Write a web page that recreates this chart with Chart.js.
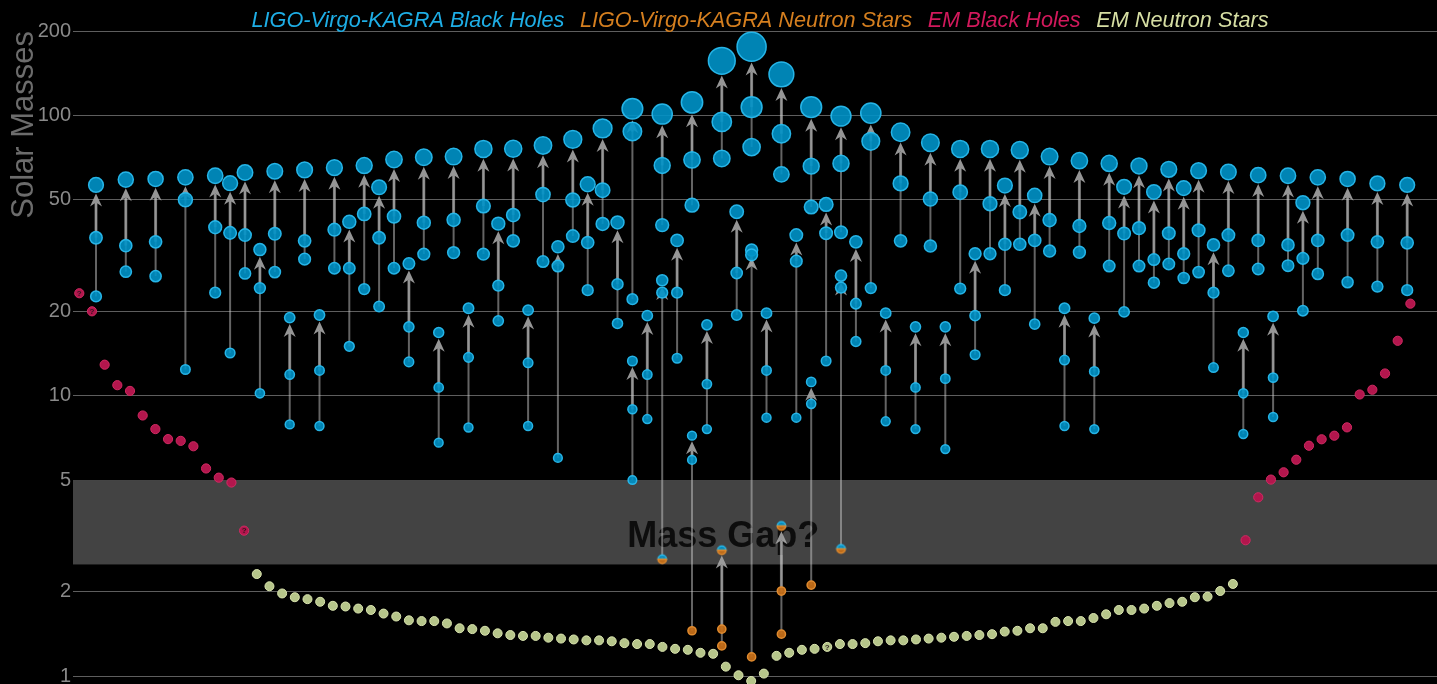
<!DOCTYPE html>
<html><head><meta charset="utf-8">
<script src="https://cdn.jsdelivr.net/npm/chart.js@4.4.1/dist/chart.umd.min.js"></script>
<style>html,body{margin:0;padding:0;background:#000;overflow:hidden}canvas{display:block}</style>
</head><body>
<canvas id="c" width="1437" height="684"></canvas>
<script>
// ---------- DATA ----------
const seriesNames = ['LIGO-Virgo-KAGRA Black Holes', 'LIGO-Virgo-KAGRA Neutron Stars', 'EM Black Holes', 'EM Neutron Stars'];
const yTickValues = [1, 2, 5, 10, 20, 50, 100, 200];
const axisTitle = 'Solar Masses';
const massGapRange = [2.5, 5];
const massGapLabel = 'Mass Gap?';

// gravitational-wave mergers, left to right (column = ordinal position)
const gwColumn = [0,1,2,3,4,4.5,5,5.5,6,6.5,7,7.5,8,8.5,9,9.5,10,10.5,11,11.5,12,12.5,13,13.5,14,14.5,15,15.5,16,16.5,17,17.5,18,18,18.5,19,19,19.5,20,20,20.5,21,21,21.5,22,22,22.5,23,23,23.5,24,24,24.5,25,25,25.5,26,26.5,27,27.5,28,28.5,29,29.5,30,30.5,31,31.5,32,32.5,33,33.5,34,34.5,35,35.5,36,36.5,37,37.5,38,38.5,39,39.5,40,40.5,41,42,43,44];
const gwFinal = [56.5,59.0,59.3,60.1,60.9,57.3,62.5,33.2,63.2,19.0,63.9,19.4,65.1,41.7,66.2,55.4,69.6,29.6,70.9,16.8,71.3,20.5,75.9,41.1,76.0,20.2,78.1,34.0,82.1,56.8,89.8,41.5,105.6,13.3,19.3,101.1,25.8,35.8,111.3,7.2,17.9,156.6,2.81,45.3,175.7,33.1,19.7,140.1,3.43,37.4,107.0,11.2,48.1,99.4,26.8,35.4,101.9,19.7,87.1,17.6,79.9,17.6,75.9,32.1,75.9,56.2,75.2,51.8,71.3,20.5,68.9,18.9,67.4,55.6,66.0,53.3,64.2,55.0,63.5,34.5,62.8,16.8,61.2,19.2,60.9,48.8,60.1,59.3,57.2,56.5];
const gwPrimary = [36.6,34.3,35.4,50.0,39.9,38.1,37.4,24.2,37.8,11.9,35.7,12.3,39.1,28.5,44.5,36.6,43.6,17.6,41.4,10.7,42.4,13.7,47.5,24.7,44.1,13.1,52.2,29.0,49.9,35.2,54.1,25.0,87.6,8.95,11.9,66.3,23.3,23.3,69.4,5.9,11.0,94.8,1.47,27.4,107.0,31.8,12.3,86.0,2.01,30.2,65.9,9.35,38.0,67.4,24.3,21.3,80.8,12.3,57.2,10.7,50.3,11.5,53.2,19.3,48.4,34.7,45.2,35.8,42.3,13.4,40.3,12.2,41.3,37.9,39.6,30.6,38.0,32.1,38.9,23.3,37.4,10.2,35.8,11.6,34.5,30.9,35.8,37.4,35.4,35.1];
const gwSecondary = [22.6,27.7,26.7,12.4,23.3,14.2,27.3,10.2,27.6,7.9,30.7,7.8,28.5,15.0,24.0,20.8,28.5,13.2,32.0,6.8,32.4,7.7,32.0,18.5,35.7,7.8,30.1,6.0,37.1,23.8,41.0,18.1,22.1,5.0,8.25,40.6,2.61,13.6,47.8,1.45,7.6,70.2,1.28,19.4,77.1,1.17,8.35,61.6,1.41,8.35,47.1,2.11,13.3,38.3,2.84,15.6,24.2,8.1,35.7,7.6,34.2,6.45,24.1,14.0,32.1,23.8,34.7,18.0,32.8,7.8,32.5,7.6,29.0,19.9,29.0,25.3,29.5,26.3,27.6,12.6,27.9,7.3,28.3,8.4,29.1,20.1,27.2,25.4,24.5,23.8];
// object class for [final, primary, secondary]: B = black hole, N = neutron star, G = uncertain (gap)
const gwKind = ['BBB','BBB','BBB','BBB','BBB','BBB','BBB','BBB','BBB','BBB','BBB','BBB','BBB','BBB','BBB','BBB','BBB','BBB','BBB','BBB','BBB','BBB','BBB','BBB','BBB','BBB','BBB','BBB','BBB','BBB','BBB','BBB','BBB','BBB','BBB','BBB','BBG','BBB','BBB','BBN','BBB','BBB','GNN','BBB','BBB','BBN','BBB','BBB','GNN','BBB','BBB','BBN','BBB','BBB','BBG','BBB','BBB','BBB','BBB','BBB','BBB','BBB','BBB','BBB','BBB','BBB','BBB','BBB','BBB','BBB','BBB','BBB','BBB','BBB','BBB','BBB','BBB','BBB','BBB','BBB','BBB','BBB','BBB','BBB','BBB','BBB','BBB','BBB','BBB','BBB'];

// electromagnetic observations, left to right
const emBlackHolesLeft = [23.2,20.0,12.9,10.9,10.4,8.5,7.6,7.0,6.9,6.6,5.5,5.1,4.9,3.3];
const emNeutronStars = [2.31,2.09,1.97,1.91,1.88,1.84,1.78,1.77,1.74,1.72,1.67,1.63,1.58,1.57,1.57,1.54,1.48,1.47,1.45,1.42,1.40,1.39,1.39,1.37,1.36,1.35,1.34,1.34,1.33,1.31,1.30,1.30,1.27,1.25,1.24,1.21,1.20,1.08,1.006,0.96,1.02,1.18,1.21,1.24,1.25,1.27,1.30,1.30,1.31,1.33,1.34,1.34,1.35,1.36,1.37,1.38,1.39,1.40,1.41,1.44,1.45,1.48,1.48,1.56,1.57,1.57,1.61,1.66,1.72,1.72,1.74,1.78,1.82,1.84,1.91,1.92,2.01,2.13];
const emBlackHolesRight = [3.05,4.34,5.02,5.33,5.91,6.63,6.99,7.20,7.71,10.1,10.5,12.0,15.7,21.3];
const emUncertain = [0, 1, 13, 59]; // positions in the EM sequence marked "?"

// ---------- STYLE ----------
const FONT = '"Liberation Sans", Arial, Helvetica, sans-serif';
const BH_FILL = 'rgba(0,146,200,0.9)', BH_BORDER = 'rgba(40,186,238,0.95)';
const NS_FILL = 'rgba(196,110,24,0.95)', NS_BORDER = '#df8a2e';
const EMBH_FILL = '#b3164d', EMBH_BORDER = '#d02a62';
const EMNS_FILL = '#b6c58a', EMNS_BORDER = '#dbe5b0';
const legendColors = ['#1eaee6', '#d57f1f', '#d2195c', '#d6dea3'];
const gwRadius = m => 4 + 0.06 * m;

// ---------- BUILD POINTS ----------
const bhPts = [], nsPts = [], gapPts = [];
for (let k = 0; k < 3; k++) {
  gwFinal.forEach((f, i) => {
    const v = [f, gwPrimary[i], gwSecondary[i]][k];
    const p = {x: gwColumn[i], y: v};
    const kind = gwKind[i][k];
    if (kind === 'B') bhPts.push(p); else if (kind === 'N') nsPts.push(p); else gapPts.push(p);
  });
}
const emBhPts = [], emNsPts = [];
emBlackHolesLeft.forEach((v, i) => emBhPts.push({x: i, y: v}));
emNeutronStars.forEach((v, i) => emNsPts.push({x: i + emBlackHolesLeft.length, y: v}));
emBlackHolesRight.forEach((v, i) => emBhPts.push({x: i + emBlackHolesLeft.length + emNeutronStars.length, y: v}));
const emAll = emBlackHolesLeft.concat(emNeutronStars, emBlackHolesRight);

function halfImage(r) {
  const s = Math.ceil(2 * r + 4); const c = document.createElement('canvas'); c.width = c.height = s;
  const g = c.getContext('2d'); const cx = s / 2;
  g.lineWidth = 1.5;
  g.beginPath(); g.arc(cx, cx, r, Math.PI, 2 * Math.PI); g.closePath(); g.fillStyle = BH_FILL; g.fill(); g.strokeStyle = BH_BORDER; g.stroke();
  g.beginPath(); g.arc(cx, cx, r, 0, Math.PI); g.closePath(); g.fillStyle = NS_FILL; g.fill(); g.strokeStyle = NS_BORDER; g.stroke();
  return c;
}
const halfImg = halfImage(gwRadius(2.8));

// ---------- PLUGIN ----------
const graveyard = {
  id: 'graveyard',
  beforeDatasetsDraw(chart) {
    const {ctx, chartArea: a, scales: {x, y}} = chart;
    ctx.save();
    // mass gap band
    const yt = y.getPixelForValue(massGapRange[1]), yb = y.getPixelForValue(massGapRange[0]);
    ctx.fillStyle = '#434343';
    ctx.fillRect(a.left, yt, a.right - a.left, yb - yt);
    ctx.font = 'bold 36px ' + FONT; ctx.fillStyle = '#0d0d0d'; ctx.textAlign = 'center'; ctx.textBaseline = 'alphabetic';
    ctx.fillText(massGapLabel, x.getPixelForValue(21.05), y.getPixelForValue(2.89));
    // merger arrows
    gwFinal.forEach((f, i) => {
      const px = x.getPixelForValue(gwColumn[i]);
      const yf = y.getPixelForValue(f), y1 = y.getPixelForValue(gwPrimary[i]), y2 = y.getPixelForValue(gwSecondary[i]);
      const tip = yf + gwRadius(f) + 1.2, notch = tip + 9, base = tip + 13;
      ctx.strokeStyle = 'rgba(200,200,200,0.5)';
      ctx.lineWidth = 2; ctx.beginPath(); ctx.moveTo(px, y2); ctx.lineTo(px, notch); ctx.stroke();
      ctx.lineWidth = 3; ctx.beginPath(); ctx.moveTo(px, y1); ctx.lineTo(px, notch); ctx.stroke();
      ctx.fillStyle = 'rgba(165,165,165,0.9)';
      ctx.beginPath(); ctx.moveTo(px, tip); ctx.lineTo(px - 6, base); ctx.lineTo(px, notch); ctx.lineTo(px + 6, base); ctx.closePath(); ctx.fill();
    });
    ctx.restore();
  },
  afterDatasetsDraw(chart) {
    const {ctx} = chart;
    ctx.save();
    ctx.font = 'bold 8px ' + FONT; ctx.fillStyle = 'rgba(35,20,25,0.9)'; ctx.textAlign = 'center'; ctx.textBaseline = 'middle';
    const xs = chart.scales.x2, y = chart.scales.y;
    emUncertain.forEach(i => ctx.fillText('?', xs.getPixelForValue(i), y.getPixelForValue(emAll[i]) + 0.5));
    ctx.restore();
  },
  afterDraw(chart) {
    const {ctx, chartArea: a} = chart;
    ctx.save();
    ctx.font = 'italic 21.7px ' + FONT; ctx.textBaseline = 'alphabetic'; ctx.textAlign = 'left';
    const gap = 15.5;
    const widths = seriesNames.map(s => ctx.measureText(s).width);
    const total = widths.reduce((s, w) => s + w, 0) + gap * (seriesNames.length - 1);
    let cx = (a.left + a.right) / 2 + 5 - total / 2;
    seriesNames.forEach((s, i) => { ctx.fillStyle = legendColors[i]; ctx.fillText(s, cx, 26.5); cx += widths[i] + gap; });
    ctx.restore();
  }
};

const ptStyle = (fill, border, rFn, bw) => ({
  backgroundColor: fill, borderColor: border, pointBorderWidth: bw, borderWidth: bw,
  pointRadius: rFn, pointHoverRadius: rFn, showLine: false
});

new Chart(document.getElementById('c'), {
  type: 'scatter',
  data: {
    datasets: [
      Object.assign({label: seriesNames[3], data: emNsPts, xAxisID: 'x2'}, ptStyle(EMNS_FILL, EMNS_BORDER, 4.5, 1)),
      Object.assign({label: seriesNames[2], data: emBhPts, xAxisID: 'x2'}, ptStyle(EMBH_FILL, EMBH_BORDER, 4.6, 1)),
      Object.assign({label: 'gap', data: gapPts, xAxisID: 'x', pointStyle: halfImg}, ptStyle(BH_FILL, BH_BORDER, gwRadius(2.8), 1.5)),
      Object.assign({label: seriesNames[1], data: nsPts, xAxisID: 'x'}, ptStyle(NS_FILL, NS_BORDER, c => gwRadius(c.raw.y), 1.5)),
      Object.assign({label: seriesNames[0], data: bhPts, xAxisID: 'x'}, ptStyle(BH_FILL, BH_BORDER, c => gwRadius(c.raw.y), 1.5))
    ]
  },
  options: {
    responsive: false, animation: false, devicePixelRatio: 1,
    clip: false,
    layout: {autoPadding: false, padding: {top: 31, left: 0, right: 0, bottom: 0}},
    plugins: {legend: {display: false}, tooltip: {enabled: false}},
    scales: {
      x: {type: 'linear', display: false, min: -0.772, max: 45.0},
      x2: {type: 'linear', display: false, min: -0.497, max: 107.1},
      y: {
        type: 'logarithmic', min: 0.9364, max: 200,
        border: {display: false},
        grid: {color: 'rgba(125,125,125,0.75)', lineWidth: 1, drawTicks: false},
        ticks: {color: '#8a8a8a', font: {family: FONT, size: 20}, padding: 2, autoSkip: false,
          callback: v => String(v)},
        title: {display: true, text: axisTitle, align: 'end', color: '#6c6c6c',
          font: {family: FONT, size: 31}, padding: {top: 6, bottom: 0}},
        afterBuildTicks: s => { s.ticks = yTickValues.map(v => ({value: v})); },
        afterFit: s => { s.width = 73; s.paddingTop = 0; s.paddingBottom = 0; }
      }
    }
  },
  plugins: [graveyard]
});
</script>
</body></html>
